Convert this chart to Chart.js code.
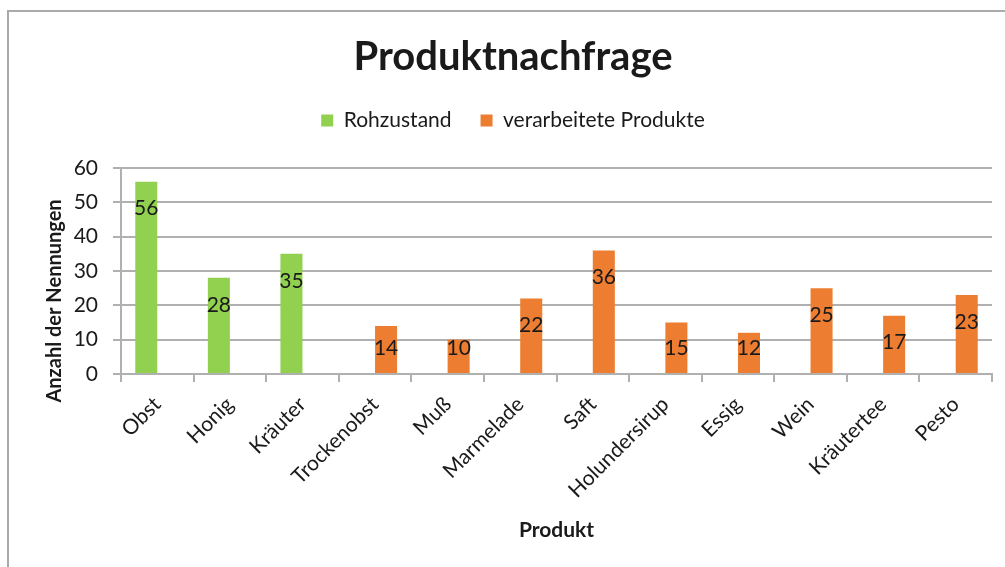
<!DOCTYPE html>
<html>
<head>
<meta charset="utf-8">
<script src="https://cdn.jsdelivr.net/npm/chart.js@4"></script>
<style>
  html, body { margin: 0; padding: 0; background: #fff; }
  #frame { position: absolute; left: 7px; top: 10px; width: 1100px; height: 700px;
           border-top: 2px solid #aaaaaa; border-left: 2px solid #aaaaaa; }
  #wrap { position: absolute; left: 0; top: 0; width: 1005px; height: 567px; }
</style>
</head>
<body>
<div id="frame"></div>
<div id="wrap"><canvas id="main-chart"></canvas></div>
<script>
// Produktnachfrage — Excel-Säulendiagramm nachgebaut
const PRODUKTE = ['Obst', 'Honig', 'Kräuter', 'Trockenobst', 'Muß', 'Marmelade', 'Saft',
                  'Holundersirup', 'Essig', 'Wein', 'Kräutertee', 'Pesto'];
const ROHZUSTAND  = [56, 28, 35, null, null, null, null, null, null, null, null, null];
const VERARBEITET = [null, null, null, 14, 10, 22, 36, 15, 12, 25, 17, 23];
const Y_TICKS = [0, 10, 20, 30, 40, 50, 60];

const GREEN  = '#92D050';
const ORANGE = '#ED7D31';
const GRID   = '#b0b0b0';
const INK    = '#1a1a1a';
const FONT   = 'Lato, "Open Sans", sans-serif';

// Werte in die Säulen schreiben (wie Excel "Innerhalb Ende")
const valueLabels = {
  id: 'valueLabels',
  afterDatasetsDraw(chart) {
    const ctx = chart.ctx;
    ctx.save();
    ctx.font = '21px ' + FONT;
    ctx.fillStyle = INK;
    ctx.textAlign = 'center';
    ctx.textBaseline = 'middle';
    chart.data.datasets.forEach((ds, i) => {
      chart.getDatasetMeta(i).data.forEach((bar, j) => {
        const v = ds.data[j];
        if (v == null) return;
        const y = Math.min(bar.y + 27, bar.base - 25);
        ctx.fillText(String(v), bar.x, y);
      });
    });
    ctx.restore();
  }
};

// y-Achsentitel etwas unterhalb der Mitte, wie im Original
const yTitle = {
  id: 'yTitle',
  afterDraw(chart) {
    const {ctx, chartArea} = chart;
    ctx.save();
    ctx.translate(chart.scales.y.left + 21, (chartArea.top + chartArea.bottom) / 2 + 30);
    ctx.rotate(-Math.PI / 2);
    ctx.font = 'bold 20px ' + FONT;
    ctx.fillStyle = INK;
    ctx.textAlign = 'center';
    ctx.textBaseline = 'middle';
    ctx.fillText('Anzahl der Nennungen', 0, 0);
    ctx.restore();
  }
};

new Chart(document.getElementById('main-chart').getContext('2d'), {
  type: 'bar',
  data: {
    labels: PRODUKTE,
    datasets: [
      { label: 'Rohzustand', data: ROHZUSTAND, backgroundColor: GREEN },
      { label: 'verarbeitete Produkte', data: VERARBEITET, backgroundColor: ORANGE }
    ]
  },
  options: {
    responsive: true, maintainAspectRatio: false,
    animation: false,
    categoryPercentage: 0.607,
    barPercentage: 1,
    layout: { padding: { top: 0, right: 13, bottom: 0, left: 34 } },
    plugins: {
      tooltip: { enabled: false },
      title: {
        display: true, text: 'Produktnachfrage', color: INK,
        font: { family: FONT, size: 40, weight: 'bold', lineHeight: 1.2 },
        padding: { top: 33, bottom: 0 }
      },
      legend: {
        labels: {
          color: INK, boxWidth: 12, boxHeight: 12, padding: 29,
          font: { family: FONT, size: 21 }
        }
      },
      subtitle: {   // nur Abstand zwischen Legende und Diagrammfläche
        display: true, text: '', weight: 500,
        font: { size: 10, lineHeight: 1 }, padding: { top: 17, bottom: 0 }
      }
    },
    scales: {
      x: {
        grid: { drawOnChartArea: false, drawTicks: true, tickLength: 8, color: GRID, lineWidth: 2 },
        border: { color: GRID, width: 2 },
        ticks: { color: INK, minRotation: 45, maxRotation: 45, padding: 10, autoSkip: false,
                 font: { family: FONT, size: 21 } },
        title: { display: true, text: 'Produkt', color: INK,
                 font: { family: FONT, size: 21, weight: 'bold', lineHeight: 1.2 },
                 padding: { top: 0, bottom: 24 } },
        afterFit(scale) { scale.height = 193; scale.paddingLeft = 0; scale.paddingRight = 0; }
      },
      y: {
        min: 0, max: 60,
        afterBuildTicks(scale) { scale.ticks = Y_TICKS.map(v => ({ value: v })); },
        grid: { color: GRID, lineWidth: 2, tickLength: 8 },
        border: { color: GRID, width: 2 },
        ticks: { color: INK, padding: 15, font: { family: FONT, size: 21 } },
        afterFit(scale) { scale.width = 87; scale.paddingTop = 0; scale.paddingBottom = 0; }
      }
    }
  },
  plugins: [valueLabels, yTitle]
});
</script>
</body>
</html>
